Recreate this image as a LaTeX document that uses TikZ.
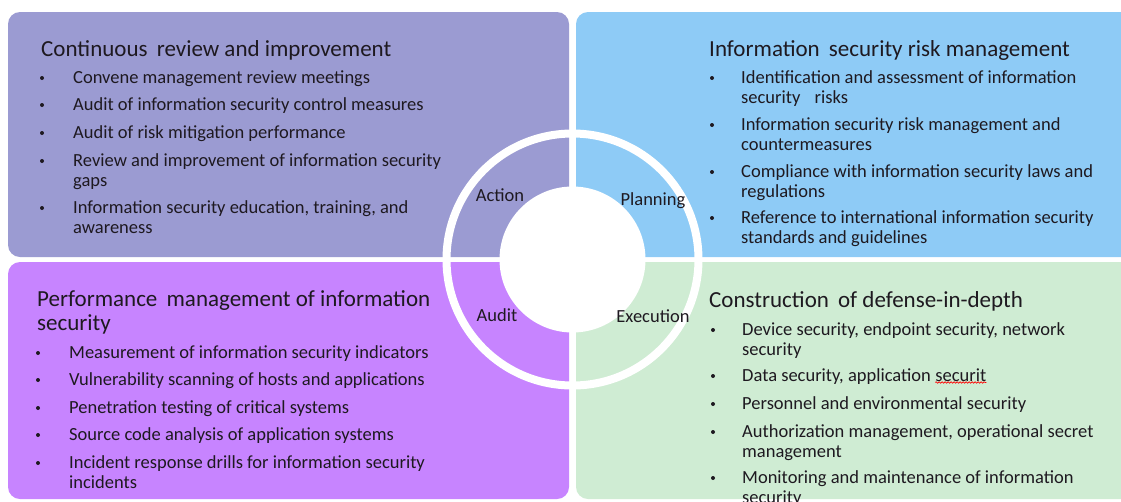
\documentclass[tikz,border=0pt]{standalone}
\usepackage{fontspec}
\setmainfont{Carlito}
\usepackage{xcolor}
\usetikzlibrary{decorations.pathmorphing}
\definecolor{actcol}{RGB}{155,155,210}
\definecolor{plancol}{RGB}{142,203,246}
\definecolor{audcol}{RGB}{199,132,255}
\definecolor{execol}{RGB}{207,236,211}
\definecolor{txtcol}{RGB}{30,25,32}
\newcommand{\wrapit}[1]{\begin{tabular}[t]{@{}l@{}}#1\end{tabular}}

\begin{document}
\begin{tikzpicture}[x=1pt,y=-1pt,
            panel/.style={rounded corners=12pt},
            ttl/.style={anchor=base west,inner sep=0pt,text=txtcol,
                font=\fontsize{23}{24}\selectfont},
            bul/.style={anchor=base west,inner sep=0pt,text=txtcol,
                font=\fontsize{18.5}{19.5}\selectfont},
            phase/.style={anchor=base,inner sep=0pt,text=txtcol,
                font=\fontsize{18.5}{20}\selectfont}]
            \useasboundingbox (0,0) rectangle (1121,501);
            \clip (0,0) rectangle (1121,501);

            \fill[actcol,panel] (8,12) rectangle (569,257);
            \fill[plancol,panel] (576,12) rectangle (1140,257);
            \fill[audcol,panel] (8,262) rectangle (569,499);
            \fill[execol,panel] (576,262) rectangle (1140,499);

            \node at (572.5,259.5) (O) {};
            \draw[white,line width=8pt] (O.center) circle(126pt);
            \fill[white] (O.center) circle(73pt);

            \node[phase] (act) at (500,201.5) {Action};
            \node[phase] (pln) at (653,205.5) {Planning};
            \node[phase] (aud) at (497,321.5) {Audit};
            \node[phase] (exe) at (653,322.5) {Execution};

            \node[ttl] (tlt) at (41,56.5) {Continuous\hspace{4pt} review and improvement};
            \node[bul] (tl1) at (73,83.5) {Convene management review meetings};
            \node[bul] (tl2) at (73,110.5) {Audit of information security control measures};
            \node[bul] (tl3) at (73,138.5) {Audit of risk mitigation performance};
            \node[bul] (tl4) at (73,166.5) {\wrapit{Review and improvement of information security\\gaps}};
            \node[bul] (tl5) at (73,213.5) {\wrapit{Information security education, training, and\\awareness}};
            \foreach \y in {78,105,133,161,208}
                \fill[txtcol] (42,\y) circle(2pt);

            \node[ttl] (trt) at (709,56.5) {Information\hspace{4pt} security risk management};
            \node[bul] (tr1) at (741,83.5) {\wrapit{Identification and assessment of information\\security\hspace{10pt} risks}};
            \node[bul] (tr2) at (741,130.5) {\wrapit{Information security risk management and\\countermeasures}};
            \node[bul] (tr3) at (741,177.5) {\wrapit{Compliance with information security laws and\\regulations}};
            \node[bul] (tr4) at (741,223.5) {\wrapit{Reference to international information security\\standards and guidelines}};
            \foreach \y in {78,125,172,218}
                \fill[txtcol] (712,\y) circle(2pt);

            \node[ttl] (blt) at (37,306.5) {\wrapit{Performance\hspace{4pt} management of information\\security}};
            \node[bul] (bl1) at (69,358.5) {Measurement of information security indicators};
            \node[bul] (bl2) at (69,385.5) {Vulnerability scanning of hosts and applications};
            \node[bul] (bl3) at (69,413.5) {Penetration testing of critical systems};
            \node[bul] (bl4) at (69,440.5) {Source code analysis of application systems};
            \node[bul] (bl5) at (69,468.5) {\wrapit{Incident response drills for information security\\incidents}};
            \foreach \y in {353,380,408,435,463}
                \fill[txtcol] (38,\y) circle(2pt);

            \node[ttl] (brt) at (709,307.5) {Construction\hspace{4pt} of defense-in-depth};
            \node[bul] (br1) at (742,335.5) {\wrapit{Device security, endpoint security, network\\security}};
            \node[bul] (br2) at (742,381.5) {Data security, application};
            \node[bul] (brs) at ([xshift=4pt]br2.base east) {securit};
            \node[bul] (br3) at (742,409.5) {Personnel and environmental security};
            \node[bul] (br4) at (742,437.5) {\wrapit{Authorization management, operational secret\\management}};
            \node[bul] (br5) at (742,483.5) {\wrapit{Monitoring and maintenance of information\\security}};
            \foreach \y in {330,376,404,432,478}
                \fill[txtcol] (713,\y) circle(2pt);

            \draw[red,line width=0.6pt,decorate,
                decoration={snake,segment length=3pt,amplitude=0.8pt}]
                ([yshift=-1pt]brs.base west) -- ([yshift=-1pt]brs.base east);
        \end{tikzpicture}
\end{document}
